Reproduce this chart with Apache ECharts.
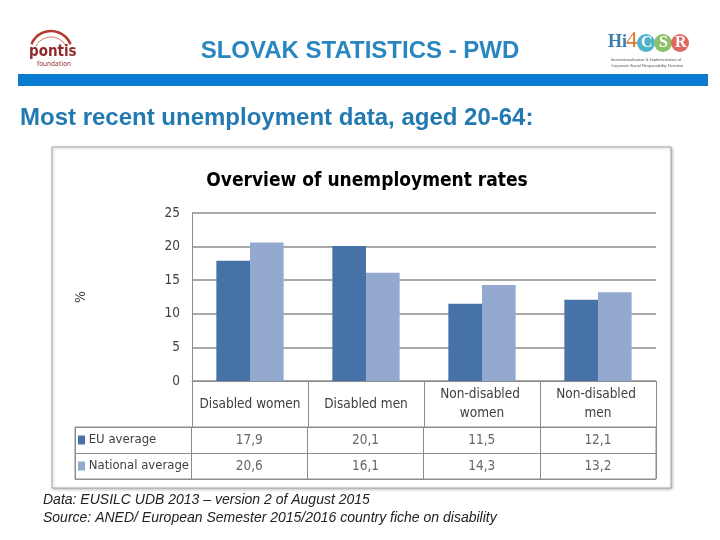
<!DOCTYPE html>
<html>
<head>
<meta charset="utf-8">
<script src="https://cdn.jsdelivr.net/npm/echarts@6/dist/echarts.min.js"></script>
<style>
html,body{margin:0;padding:0;background:#fff;}
#c{width:720px;height:540px;}
</style>
</head>
<body>
<div id="c"></div>
<script>
var categories = ['Disabled women', 'Disabled men', 'Non-disabled women', 'Non-disabled men'];
var seriesNames = ['EU average', 'National average'];
var euValues = [17.9, 20.1, 11.5, 12.1];
var nationalValues = [20.6, 16.1, 14.3, 13.2];
var yTicks = [0, 5, 10, 15, 20, 25];

var EU_COLOR = '#4672a8';
var NAT_COLOR = '#93a9d0';
var NARROW = '"DejaVu Sans Condensed", "Liberation Sans Narrow", "Liberation Sans", sans-serif';
var ARIAL = '"Liberation Sans", Arial, sans-serif';
var LINE = '#8c8c8c';

var chart = echarts.init(document.getElementById('c'), null, {renderer: 'canvas'});

function fmt(v) { return String(v.toFixed(1)).replace('.', ','); }

var tableData = [];
categories.forEach(function (c, i) {
  tableData.push([i + 1, 0, euValues[i]]);
  tableData.push([i + 1, 1, nationalValues[i]]);
});
var rowColors = [EU_COLOR, NAT_COLOR];

var option = {
  backgroundColor: '#ffffff',
  animation: false,
  title: [{
    text: 'Overview of unemployment rates',
    left: 362, top: 167, textAlign: 'center',
    textStyle: {fontFamily: NARROW, fontSize: 19, fontWeight: 'bold', color: '#000'}
  }],
  grid: [
    {left: 192, top: 213, width: 464, height: 168, containLabel: false},
    {left: 75, top: 427, width: 581, height: 52, containLabel: false, show: true, borderColor: LINE, borderWidth: 1, backgroundColor: 'transparent'}
  ],
  xAxis: [
    {
      gridIndex: 0, type: 'category', data: categories,
      axisLine: {show: true, lineStyle: {color: LINE, width: 1}},
      axisTick: {show: true, interval: 0, length: 46, lineStyle: {color: LINE}},
      axisLabel: {interval: 0, margin: 23, verticalAlign: 'middle', width: 108, overflow: 'break', lineHeight: 19,
        fontFamily: NARROW, fontSize: 13.5, color: '#404040'},
      splitLine: {show: false}
    },
    {
      gridIndex: 1, type: 'category', data: [''].concat(categories),
      axisLine: {show: false}, axisTick: {show: false}, axisLabel: {show: false},
      splitLine: {show: true, interval: 0, lineStyle: {color: LINE, width: 1}}
    }
  ],
  yAxis: [
    {
      gridIndex: 0, type: 'value', min: 0, max: 25, interval: 5,
      name: '%', nameLocation: 'middle', nameGap: 104, nameRotate: 90,
      nameTextStyle: {fontFamily: NARROW, fontSize: 14, color: '#404040'},
      axisLine: {show: true, lineStyle: {color: LINE}},
      axisTick: {show: false},
      axisLabel: {margin: 12, fontFamily: NARROW, fontSize: 13.5, color: '#404040',
        formatter: function (v) { return yTicks.indexOf(v) >= 0 ? String(v) : ''; }},
      splitLine: {show: true, lineStyle: {color: LINE, width: 1.5}}
    },
    {
      gridIndex: 1, type: 'category', data: seriesNames, inverse: true,
      axisLine: {show: false}, axisTick: {show: false},
      axisLabel: {inside: true, margin: 3, fontFamily: NARROW, fontSize: 13, color: '#404040',
        formatter: function (v, i) { return '{s' + i + '|}' + ' ' + v; },
        rich: {
          s0: {width: 7, height: 9, backgroundColor: rowColors[0]},
          s1: {width: 7, height: 9, backgroundColor: rowColors[1]}
        }},
      splitLine: {show: true, interval: 0, lineStyle: {color: LINE, width: 1}}
    }
  ],
  series: [
    {name: seriesNames[0], type: 'bar', xAxisIndex: 0, yAxisIndex: 0, data: euValues,
      barGap: '0%', barCategoryGap: '42%', itemStyle: {color: EU_COLOR}},
    {name: seriesNames[1], type: 'bar', xAxisIndex: 0, yAxisIndex: 0, data: nationalValues,
      barGap: '0%', barCategoryGap: '42%', itemStyle: {color: NAT_COLOR}},
    {type: 'scatter', xAxisIndex: 1, yAxisIndex: 1, data: tableData, symbolSize: 1,
      itemStyle: {color: 'rgba(0,0,0,0)'},
      label: {show: true, position: 'inside', fontFamily: NARROW, fontSize: 13.5, color: '#404040',
        formatter: function (p) { return fmt(p.value[2]); }}}
  ],
  graphic: [
    {type: 'rect', shape: {x: 52, y: 147, width: 619, height: 341}, z: -10,
      style: {fill: '#fff', stroke: '#a6a6a6', lineWidth: 1, shadowBlur: 3, shadowColor: 'rgba(0,0,0,0.25)', shadowOffsetX: 1, shadowOffsetY: 1}},
    {type: 'text', left: 'center', top: 39, style: {text: 'SLOVAK STATISTICS - PWD', fontFamily: ARIAL, fontSize: 24, fontWeight: 'bold', fill: '#2a86c0'}},
    {type: 'rect', shape: {x: 18, y: 74, width: 690, height: 12}, style: {fill: '#0a7bd2'}},
    {type: 'text', x: 20, y: 106, style: {text: 'Most recent unemployment data, aged 20-64:', fontFamily: ARIAL, fontSize: 24, fontWeight: 'bold', fill: '#2379b1'}},
    {type: 'text', x: 43, y: 493, style: {text: 'Data: EUSILC UDB 2013 \u2013 version 2 of August 2015', fontFamily: ARIAL, fontSize: 14, fontStyle: 'italic', fill: '#222'}},
    {type: 'text', x: 43, y: 511, style: {text: 'Source: ANED/ European Semester 2015/2016 country fiche on disability', fontFamily: ARIAL, fontSize: 14, fontStyle: 'italic', fill: '#222'}},
    // pontis logo
    {type: 'arc', shape: {cx: 51, cy: 52, r: 21, startAngle: Math.PI * 1.12, endAngle: Math.PI * 1.88}, style: {stroke: '#b33a2a', lineWidth: 2.5, fill: null}},
    {type: 'arc', shape: {cx: 51, cy: 54, r: 17, startAngle: Math.PI * 1.15, endAngle: Math.PI * 1.85}, style: {stroke: '#d7775f', lineWidth: 1, fill: null}},
    {type: 'text', x: 29, y: 45, style: {text: 'pontis', fontFamily: NARROW, fontSize: 15, fontWeight: 'bold', fill: '#8e2a2a'}},
    {type: 'text', x: 37, y: 61, style: {text: 'foundation', fontFamily: NARROW, fontSize: 7, fill: '#8e2a2a'}},
    // Hi4CSR logo
    {type: 'text', x: 608, y: 33, style: {text: 'Hi', fontFamily: 'Liberation Serif, serif', fontSize: 18, fontWeight: 'bold', fill: '#3a7db0'}},
    {type: 'text', x: 626, y: 29, style: {text: '4', fontFamily: 'Liberation Serif, serif', fontSize: 23, fill: '#e0762f'}},
    {type: 'circle', shape: {cx: 646, cy: 43, r: 9}, style: {fill: '#4cb3c9'}},
    {type: 'circle', shape: {cx: 663, cy: 43, r: 9}, style: {fill: '#8cc06a'}},
    {type: 'circle', shape: {cx: 680, cy: 43, r: 9}, style: {fill: '#e0675e'}},
    {type: 'text', x: 641, y: 35, style: {text: 'C', fontFamily: 'Liberation Serif, serif', fontSize: 16, fontWeight: 'bold', fill: '#fff'}},
    {type: 'text', x: 659, y: 35, style: {text: 'S', fontFamily: 'Liberation Serif, serif', fontSize: 16, fontWeight: 'bold', fill: '#fff'}},
    {type: 'text', x: 675, y: 35, style: {text: 'R', fontFamily: 'Liberation Serif, serif', fontSize: 16, fontWeight: 'bold', fill: '#fff'}},
    {type: 'text', x: 611, y: 58, style: {text: 'Internationalisation & Implementation of', fontFamily: 'sans-serif', fontSize: 4, fill: '#555'}},
    {type: 'text', x: 611, y: 64, style: {text: 'Corporate Social Responsibility Directive', fontFamily: 'sans-serif', fontSize: 4, fill: '#555'}}
  ]
};
chart.setOption(option);
</script>
</body>
</html>
